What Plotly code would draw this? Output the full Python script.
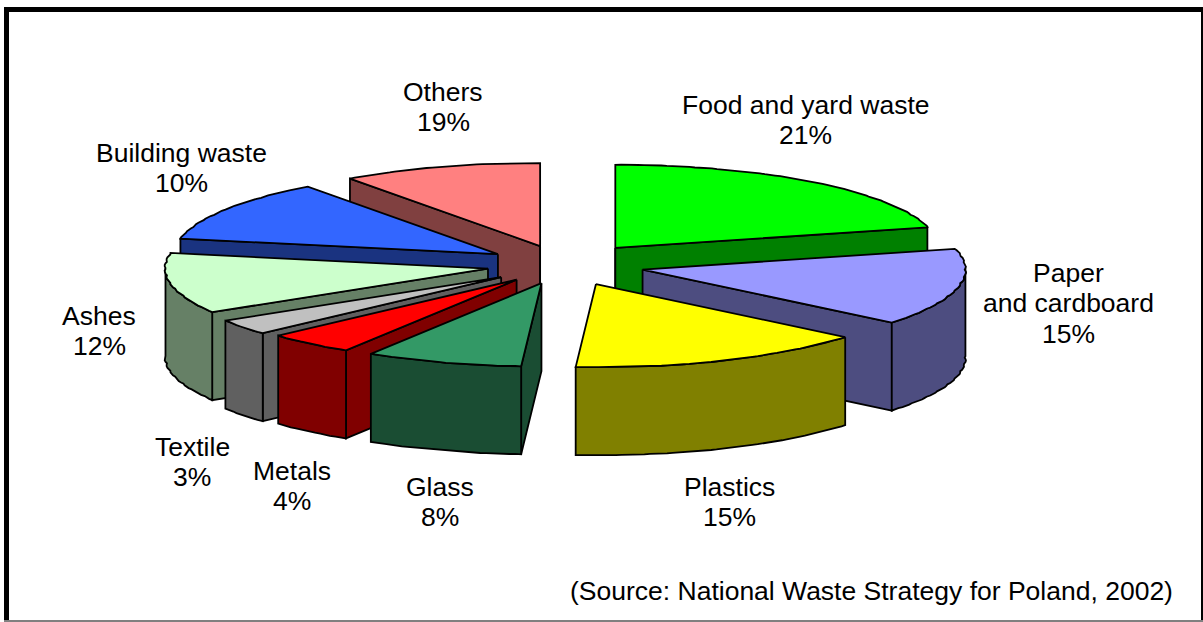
import numpy as np
import plotly.graph_objects as go

# Draw order is clockwise from 12 o'clock. Printed labels sum to 107 %, drawn sweeps to 100 %.
categories = ["Food and yard waste", "Paper\nand cardboard", "Plastics", "Glass", "Metals",
              "Textile", "Ashes", "Building waste", "Others"]
label_pct = [21, 15, 15, 8, 4, 3, 12, 10, 19]
drawn_share = [21, 15, 15, 7.85, 4.4, 3, 11.75, 12, 10]
pull = [0.26, 0.25, 0.25, 0.23, 0.23, 0.244, 0.24, 0.243, 0.24]
top_colors = ["#00FF00", "#9999FF", "#FFFF00", "#339966", "#FF0000", "#C0C0C0", "#CCFFCC", "#3366FF", "#FF8080"]
side_colors = ["#008000", "#4D4D80", "#808000", "#1A4D33", "#800000", "#606060", "#668066", "#1A3380", "#804040"]
paint_order = [8, 7, 6, 5, 4, 3, 0, 1, 2]

label_xy = [(805, 120), (1068, 303), (729, 502), (440, 502), (292, 486), (192, 462), (99, 331), (181, 168), (443, 107)]
LINE_H = 30.5
CX, CY, RX, RY, DEPTH = 564, 265, 322, 83, 88

fig = go.Figure()


def poly(xs, ys, fill):
    fig.add_trace(go.Scatter(x=list(xs), y=list(ys), mode="lines", fill="toself", fillcolor=fill,
                             line=dict(color="black", width=1.8), hoverinfo="skip", showlegend=False))


starts = np.cumsum([0] + drawn_share[:-1]) / 100 * 2 * np.pi
for i in paint_order:
    a0 = starts[i]
    a1 = a0 + drawn_share[i] / 100 * 2 * np.pi
    mid = (a0 + a1) / 2
    ax = CX + RX * pull[i] * np.sin(mid)
    ay = CY - RY * pull[i] * np.cos(mid)
    mx = ax + 0.6 * RX * np.sin(mid)
    my = ay - 0.6 * RY * np.cos(mid)
    t = np.linspace(a0, a1, max(8, int(np.degrees(a1 - a0) / 1.0)))
    wobble = 1 + 0.005 * np.abs(np.sin(t * 38))
    ex = ax + RX * wobble * np.sin(t)
    ey = ay - RY * wobble * np.cos(t)
    # radial side faces, only those turned toward the viewer
    for k in (0, -1):
        dx = ex[k] - ax
        if abs(dx) < 1:
            # edge-on face: just a vertical rib
            poly([ax, ax], [ay, ay + DEPTH], side_colors[i])
            continue
        line_y = ay + (ey[k] - ay) * (mx - ax) / dx
        if my < line_y:
            poly([ax, ex[k], ex[k], ax, ax], [ay, ey[k], ey[k] + DEPTH, ay + DEPTH, ay], side_colors[i])
    # outer curved side, only where it faces the viewer
    vis = np.cos(t) < 0.02
    if vis.sum() > 1:
        vx, vy = ex[vis], ey[vis]
        poly(np.r_[vx, vx[::-1], vx[0]], np.r_[vy, vy[::-1] + DEPTH, vy[0]], side_colors[i])
    # top face
    poly(np.r_[ax, ex, ax], np.r_[ay, ey, ay], top_colors[i])

anns = []
for c, p, (x, y) in zip(categories, label_pct, label_xy):
    lines = c.split("\n") + [f"{p}%"]
    for j, txt in enumerate(lines):
        anns.append(dict(x=x, y=y + (j - (len(lines) - 1) / 2) * LINE_H, text=txt, showarrow=False,
                         xanchor="center", yanchor="middle", align="center"))
anns.append(dict(x=1174.5, y=591, text="(Source: National Waste Strategy for Poland, 2002)", showarrow=False,
                 xanchor="right", yanchor="middle"))

frame = [
    dict(type="rect", x0=4, x1=1203, y0=7, y1=12, fillcolor="black", line_width=0),
    dict(type="rect", x0=4, x1=9, y0=7, y1=622, fillcolor="black", line_width=0),
    dict(type="rect", x0=1201, x1=1203, y0=7, y1=620, fillcolor="black", line_width=0),
    dict(type="rect", x0=4, x1=1203, y0=620, y1=622, fillcolor="#808080", line_width=0),
]

fig.update_layout(
    width=1203, height=622, margin=dict(l=0, r=0, t=0, b=0), autosize=False,
    paper_bgcolor="white", plot_bgcolor="white", showlegend=False,
    font=dict(family="Liberation Sans", size=26.5, color="black"),
    xaxis=dict(range=[0, 1203], visible=False, fixedrange=True),
    yaxis=dict(range=[622, 0], visible=False, fixedrange=True),
    annotations=anns, shapes=frame,
)
fig.write_html("out.html", config={"displayModeBar": False},
               post_script="document.body.style.margin='0';document.documentElement.style.overflow='hidden';")
